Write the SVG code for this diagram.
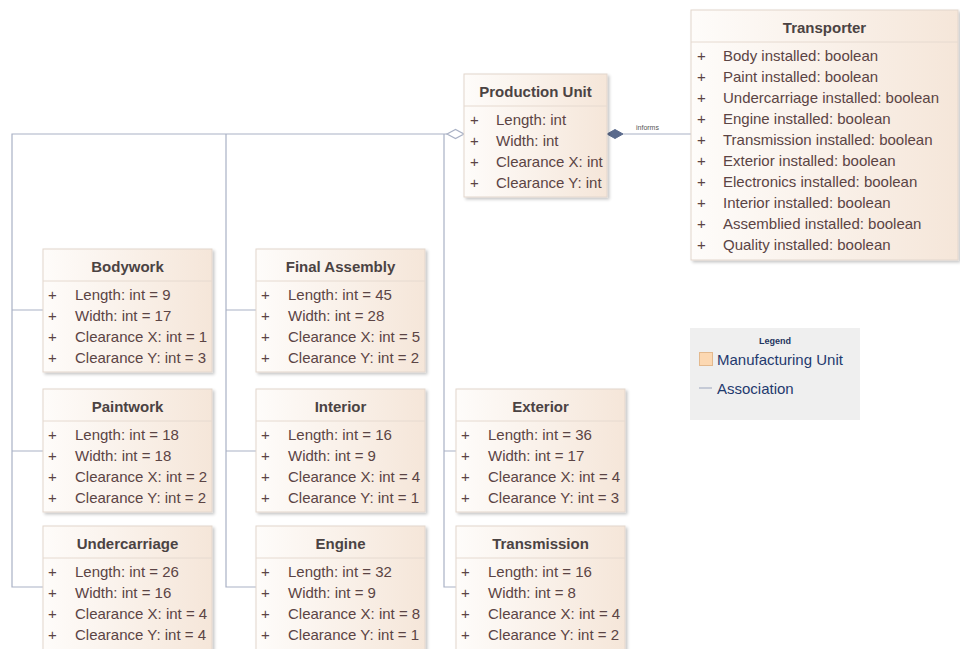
<svg xmlns="http://www.w3.org/2000/svg" width="960" height="649" viewBox="0 0 960 649">
  <defs>
    <linearGradient id="boxFill" x1="0" y1="0" x2="1" y2="0">
      <stop offset="0" stop-color="#fefcfa"/>
      <stop offset="1" stop-color="#f5e6d9"/>
    </linearGradient>
    <filter id="shadow" x="-10%" y="-10%" width="120%" height="120%">
      <feDropShadow dx="2" dy="2" stdDeviation="1.5" flood-color="#000" flood-opacity="0.22"/>
    </filter>
    <style>
      .box { fill: url(#boxFill); stroke: #e2d6cc; stroke-width: 1; filter: url(#shadow); }
      .sep { stroke: #e6dad0; stroke-width: 1; }
      .title { font-family: "Liberation Sans", Arial, sans-serif; font-size: 15px; font-weight: bold; fill: #4b4343; text-anchor: middle; }
      .attr { font-family: "Liberation Sans", Arial, sans-serif; font-size: 15px; fill: #5b4444; }
      .conn { fill: none; stroke: #a9b1c5; stroke-width: 1.2; }
      .lbl { font-family: "Liberation Sans", Arial, sans-serif; font-size: 7px; fill: #555; }
      .legend-title { font-family: "Liberation Sans", Arial, sans-serif; font-size: 9px; font-weight: bold; fill: #1f3560; text-anchor: middle; }
      .legend-text { font-family: "Liberation Sans", Arial, sans-serif; font-size: 15px; fill: #1f3a6e; }
    </style>
  </defs>

  <rect width="960" height="649" fill="#ffffff"/>

  <!-- connectors -->
  <g id="connectors">
    <!-- aggregation trunk into Production Unit -->
    <path class="conn" d="M447,134 H12 V587 H43"/>
    <path class="conn" d="M12,310 H43 M12,451 H43"/>
    <path class="conn" d="M226,134 V587 H256 M226,310 H256 M226,451 H256"/>
    <path class="conn" d="M444,134 V587 H456 M444,451 H456"/>
    <polygon points="447,134 455.5,129.5 464,134 455.5,138.5" fill="#ffffff" stroke="#a9b1c5" stroke-width="1.2"/>
    <!-- composition to Transporter -->
    <path class="conn" d="M623,134 H691"/>
    <polygon points="607,134 615,129.5 623,134 615,138.5" fill="#5a6a8c" stroke="#5a6a8c" stroke-width="1"/>
    <text class="lbl" x="636" y="130">informs</text>
  </g>

  <!-- Production Unit -->
  <g id="production-unit" transform="translate(464,74)">
    <rect class="box" width="143" height="123"/>
    <line class="sep" x1="0" y1="32" x2="143" y2="32"/>
    <text class="title" x="71.5" y="23">Production Unit</text>
    <text class="attr" x="6" y="51">+</text><text class="attr" x="32" y="51">Length: int</text>
    <text class="attr" x="6" y="72">+</text><text class="attr" x="32" y="72">Width: int</text>
    <text class="attr" x="6" y="93">+</text><text class="attr" x="32" y="93">Clearance X: int</text>
    <text class="attr" x="6" y="114">+</text><text class="attr" x="32" y="114">Clearance Y: int</text>
  </g>

  <!-- Transporter -->
  <g id="transporter" transform="translate(691,10)">
    <rect class="box" width="267" height="250"/>
    <line class="sep" x1="0" y1="32" x2="267" y2="32"/>
    <text class="title" x="133.5" y="23">Transporter</text>
    <text class="attr" x="6" y="51">+</text><text class="attr" x="32" y="51">Body installed: boolean</text>
    <text class="attr" x="6" y="72">+</text><text class="attr" x="32" y="72">Paint installed: boolean</text>
    <text class="attr" x="6" y="93">+</text><text class="attr" x="32" y="93">Undercarriage installed: boolean</text>
    <text class="attr" x="6" y="114">+</text><text class="attr" x="32" y="114">Engine installed: boolean</text>
    <text class="attr" x="6" y="135">+</text><text class="attr" x="32" y="135">Transmission installed: boolean</text>
    <text class="attr" x="6" y="156">+</text><text class="attr" x="32" y="156">Exterior installed: boolean</text>
    <text class="attr" x="6" y="177">+</text><text class="attr" x="32" y="177">Electronics installed: boolean</text>
    <text class="attr" x="6" y="198">+</text><text class="attr" x="32" y="198">Interior installed: boolean</text>
    <text class="attr" x="6" y="219">+</text><text class="attr" x="32" y="219">Assemblied installed: boolean</text>
    <text class="attr" x="6" y="240">+</text><text class="attr" x="32" y="240">Quality installed: boolean</text>
  </g>

  <!-- Bodywork -->
  <g id="bodywork" transform="translate(43,249)">
    <rect class="box" width="169" height="123"/>
    <line class="sep" x1="0" y1="32" x2="169" y2="32"/>
    <text class="title" x="84.5" y="23">Bodywork</text>
    <text class="attr" x="5" y="51">+</text><text class="attr" x="32" y="51">Length: int = 9</text>
    <text class="attr" x="5" y="72">+</text><text class="attr" x="32" y="72">Width: int = 17</text>
    <text class="attr" x="5" y="93">+</text><text class="attr" x="32" y="93">Clearance X: int = 1</text>
    <text class="attr" x="5" y="114">+</text><text class="attr" x="32" y="114">Clearance Y: int = 3</text>
  </g>

  <!-- Paintwork -->
  <g id="paintwork" transform="translate(43,389)">
    <rect class="box" width="169" height="123"/>
    <line class="sep" x1="0" y1="32" x2="169" y2="32"/>
    <text class="title" x="84.5" y="23">Paintwork</text>
    <text class="attr" x="5" y="51">+</text><text class="attr" x="32" y="51">Length: int = 18</text>
    <text class="attr" x="5" y="72">+</text><text class="attr" x="32" y="72">Width: int = 18</text>
    <text class="attr" x="5" y="93">+</text><text class="attr" x="32" y="93">Clearance X: int = 2</text>
    <text class="attr" x="5" y="114">+</text><text class="attr" x="32" y="114">Clearance Y: int = 2</text>
  </g>

  <!-- Undercarriage -->
  <g id="undercarriage" transform="translate(43,526)">
    <rect class="box" width="169" height="128"/>
    <line class="sep" x1="0" y1="32" x2="169" y2="32"/>
    <text class="title" x="84.5" y="23">Undercarriage</text>
    <text class="attr" x="5" y="51">+</text><text class="attr" x="32" y="51">Length: int = 26</text>
    <text class="attr" x="5" y="72">+</text><text class="attr" x="32" y="72">Width: int = 16</text>
    <text class="attr" x="5" y="93">+</text><text class="attr" x="32" y="93">Clearance X: int = 4</text>
    <text class="attr" x="5" y="114">+</text><text class="attr" x="32" y="114">Clearance Y: int = 4</text>
  </g>

  <!-- Final Assembly -->
  <g id="final-assembly" transform="translate(256,249)">
    <rect class="box" width="169" height="123"/>
    <line class="sep" x1="0" y1="32" x2="169" y2="32"/>
    <text class="title" x="84.5" y="23">Final Assembly</text>
    <text class="attr" x="5" y="51">+</text><text class="attr" x="32" y="51">Length: int = 45</text>
    <text class="attr" x="5" y="72">+</text><text class="attr" x="32" y="72">Width: int = 28</text>
    <text class="attr" x="5" y="93">+</text><text class="attr" x="32" y="93">Clearance X: int = 5</text>
    <text class="attr" x="5" y="114">+</text><text class="attr" x="32" y="114">Clearance Y: int = 2</text>
  </g>

  <!-- Interior -->
  <g id="interior" transform="translate(256,389)">
    <rect class="box" width="169" height="123"/>
    <line class="sep" x1="0" y1="32" x2="169" y2="32"/>
    <text class="title" x="84.5" y="23">Interior</text>
    <text class="attr" x="5" y="51">+</text><text class="attr" x="32" y="51">Length: int = 16</text>
    <text class="attr" x="5" y="72">+</text><text class="attr" x="32" y="72">Width: int = 9</text>
    <text class="attr" x="5" y="93">+</text><text class="attr" x="32" y="93">Clearance X: int = 4</text>
    <text class="attr" x="5" y="114">+</text><text class="attr" x="32" y="114">Clearance Y: int = 1</text>
  </g>

  <!-- Engine -->
  <g id="engine" transform="translate(256,526)">
    <rect class="box" width="169" height="128"/>
    <line class="sep" x1="0" y1="32" x2="169" y2="32"/>
    <text class="title" x="84.5" y="23">Engine</text>
    <text class="attr" x="5" y="51">+</text><text class="attr" x="32" y="51">Length: int = 32</text>
    <text class="attr" x="5" y="72">+</text><text class="attr" x="32" y="72">Width: int = 9</text>
    <text class="attr" x="5" y="93">+</text><text class="attr" x="32" y="93">Clearance X: int = 8</text>
    <text class="attr" x="5" y="114">+</text><text class="attr" x="32" y="114">Clearance Y: int = 1</text>
  </g>

  <!-- Exterior -->
  <g id="exterior" transform="translate(456,389)">
    <rect class="box" width="169" height="123"/>
    <line class="sep" x1="0" y1="32" x2="169" y2="32"/>
    <text class="title" x="84.5" y="23">Exterior</text>
    <text class="attr" x="5" y="51">+</text><text class="attr" x="32" y="51">Length: int = 36</text>
    <text class="attr" x="5" y="72">+</text><text class="attr" x="32" y="72">Width: int = 17</text>
    <text class="attr" x="5" y="93">+</text><text class="attr" x="32" y="93">Clearance X: int = 4</text>
    <text class="attr" x="5" y="114">+</text><text class="attr" x="32" y="114">Clearance Y: int = 3</text>
  </g>

  <!-- Transmission -->
  <g id="transmission" transform="translate(456,526)">
    <rect class="box" width="169" height="128"/>
    <line class="sep" x1="0" y1="32" x2="169" y2="32"/>
    <text class="title" x="84.5" y="23">Transmission</text>
    <text class="attr" x="5" y="51">+</text><text class="attr" x="32" y="51">Length: int = 16</text>
    <text class="attr" x="5" y="72">+</text><text class="attr" x="32" y="72">Width: int = 8</text>
    <text class="attr" x="5" y="93">+</text><text class="attr" x="32" y="93">Clearance X: int = 4</text>
    <text class="attr" x="5" y="114">+</text><text class="attr" x="32" y="114">Clearance Y: int = 2</text>
  </g>

  <!-- Legend -->
  <g id="legend" transform="translate(690,328)">
    <rect width="170" height="92" fill="#efefef"/>
    <text class="legend-title" x="85" y="16">Legend</text>
    <rect x="9.5" y="24.5" width="13" height="13" fill="#fcd8b2" stroke="#e3b98e" stroke-width="1"/>
    <text class="legend-text" x="27" y="37">Manufacturing Unit</text>
    <line x1="9" y1="60" x2="22" y2="60" stroke="#a9b1c5" stroke-width="1.2"/>
    <text class="legend-text" x="27" y="66">Association</text>
  </g>
</svg>
